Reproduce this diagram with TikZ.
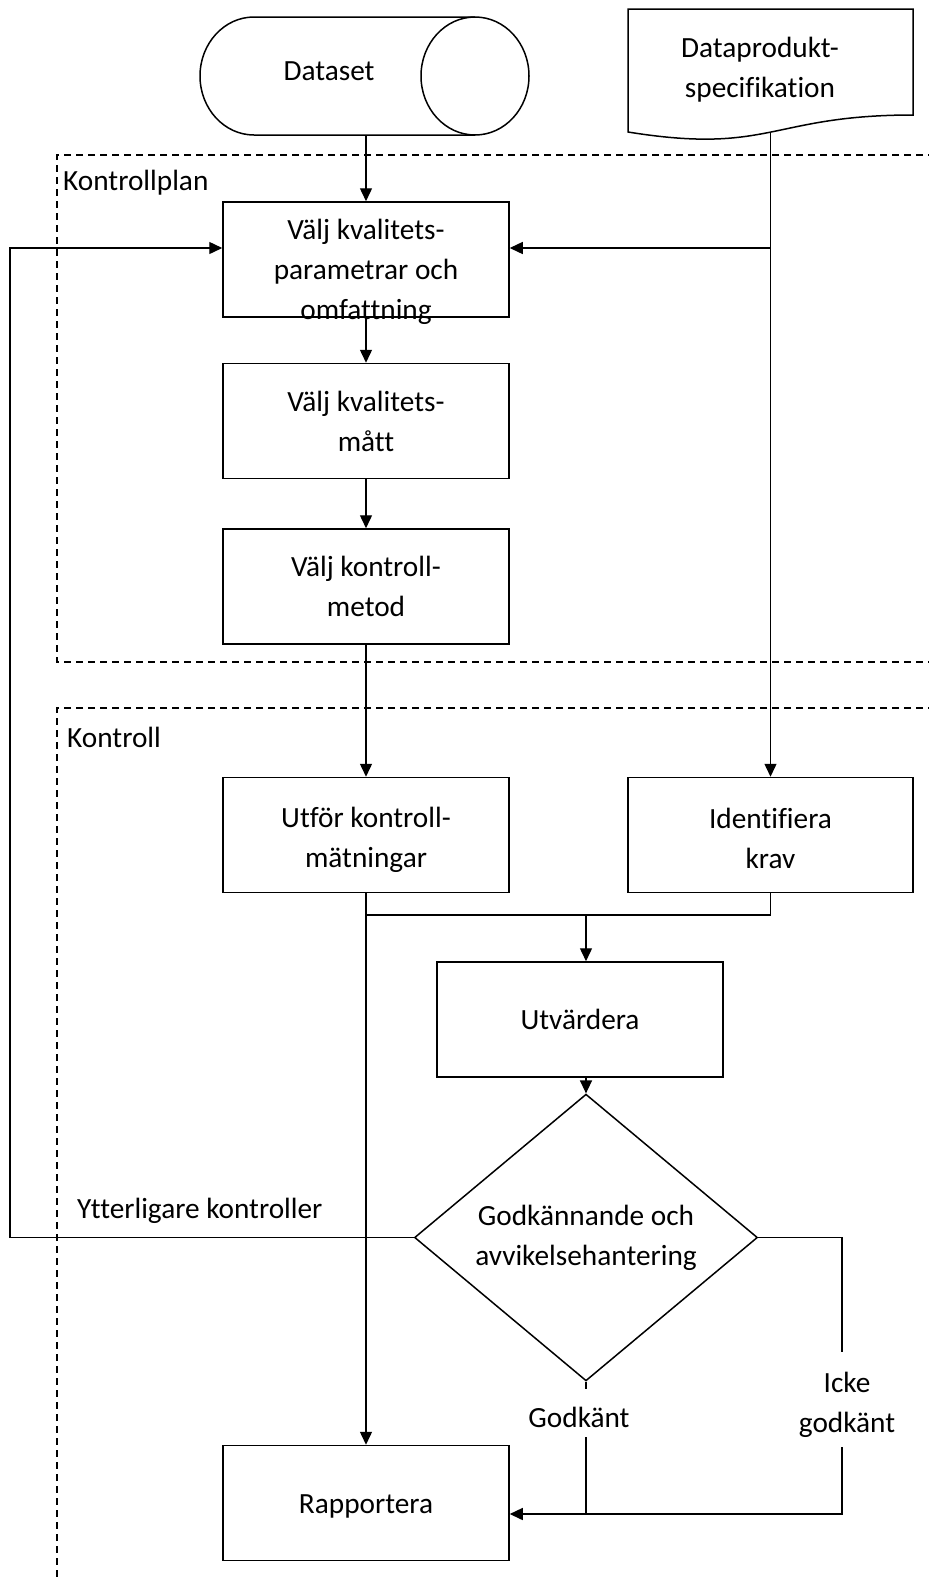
\documentclass[tikz,border=0pt]{standalone}
\usepackage{fontspec}
\setmainfont{Carlito}[Ligatures={NoCommon}]
\usetikzlibrary{shapes.geometric,arrows.meta}
\begin{document}
\begin{tikzpicture}[x=1pt,y=-1pt,
  font=\fontsize{29.3}{40}\selectfont,
  box/.style={draw,line width=1.5pt,minimum width=286pt,minimum height=115pt,inner sep=0pt,align=center},
  ln/.style={line width=1.4pt},
  arr/.style={line width=1.4pt,-{Triangle[length=13pt,width=12pt]}},
  frame/.style={line width=1.2pt,dash pattern=on 7pt off 5pt},
  lbl/.style={inner sep=0pt,anchor=base west},
  txt/.style={inner sep=0pt,align=center}]
\useasboundingbox (0,0) rectangle (929,1580);
\fill[white] (0,0) rectangle (929,1580);

% dashed frames
\draw[frame] (935,155) -- (57,155) -- (57,662) -- (935,662);
\draw[frame] (935,708) -- (57,708) -- (57,1590);
\node[lbl] (kp) at (63,190) {Kontrollplan};
\node[lbl] (kt) at (67,747) {Kontroll};

% Dataset cylinder
\node[inner sep=0pt,minimum width=329pt,minimum height=118pt] (ds) at (364.5,76) {};
\draw[line width=1.5pt] (254,17) -- (475,17)
  (254,135) -- (475,135)
  (254,17) .. controls (224.2,17) and (200,43.4) .. (200,76)
  .. controls (200,108.6) and (224.2,135) .. (254,135);
\draw[line width=1.5pt] (475,76) ellipse [x radius=54, y radius=59];
\node[inner sep=0pt,anchor=base] (dst) at (329,80) {Dataset};

% Document
\node[inner sep=0pt,minimum width=285pt,minimum height=124pt] (doc) at (770.5,71) {};
\draw[line width=1.5pt] (628,9) -- (913,9) -- (913,115)
  .. controls (770.5,115) and (770.5,155) .. (628,132) -- cycle;
\node[txt] (doct) at (760,70) {Dataprodukt-\\specifikation};

% boxes
\node[box,label={[txt,yshift=-12pt]center:{Välj kvalitets-\\parametrar och\\omfattning}}] (b1) at (366,259.5) {};
\node[box] (b2) at (366,421) {Välj kvalitets-\\mått};
\node[box] (b3) at (366,586.5) {Välj kontroll-\\metod};
\node[box] (utf) at (366,835) {\rule{0pt}{30pt}Utför kontroll-\\mätningar};
\node[box,minimum width=285pt] (idf) at (770.5,835) {\rule{0pt}{28pt}Identifiera\\krav};
\node[box] (utv) at (580,1019.5) {Utvärdera};
\node[box] (rap) at (366,1503) {\rule{0pt}{26pt}Rapportera};
\node[draw,diamond,line width=1.5pt,minimum width=343pt,minimum height=229pt,inner sep=0pt,align=center] (dia) at (586,1237.5) {Godkännande och\\avvikelsehantering};

% labels
\node[lbl] (yk) at (77,1218) {Ytterligare kontroller};
\node[inner sep=0pt,anchor=base] (gk) at (579,1427) {Godkänt};
\node[txt] (ik) at (847,1405) {Icke\\godkänt};

% coordinates
\coordinate (j1) at (770.5,248);
\coordinate (fb) at (10,248);
\coordinate (jn) at (586,915);
\coordinate (gk1) at (586,1389);
\coordinate (gk2) at (586,1437);
\coordinate (ik1) at (842,1352);
\coordinate (ik2) at (842,1447);
\coordinate (rj) at (842,1514);

% connectors
\draw[arr] (ds.south -| b1.north) -- (b1.north);
\draw[arr] (doc.south) -- (idf.north);
\draw[arr] (j1) -- (j1 -| b1.east);
\draw[arr] (dia.west) -| (fb) -- (fb -| b1.west);
\draw[arr] (b1.south) -- (b2.north);
\draw[arr] (b2.south) -- (b3.north);
\draw[arr] (b3.south) -- (utf.north);
\draw[ln] (idf.south) |- (utf.south |- jn);
\draw[arr] (utf.south) -- (rap.north);
\draw[arr] (jn) -- (jn |- utv.north);
\draw[arr] (dia.north |- utv.south) -- (dia.north);
\draw[ln] (dia.south) -- (gk1);
\draw[ln] (gk2) -- (gk2 |- rj);
\draw[ln] (dia.east) -| (ik1);
\draw[arr] (ik2) -- (rj) -- (rj -| rap.east);
\end{tikzpicture}
\end{document}
